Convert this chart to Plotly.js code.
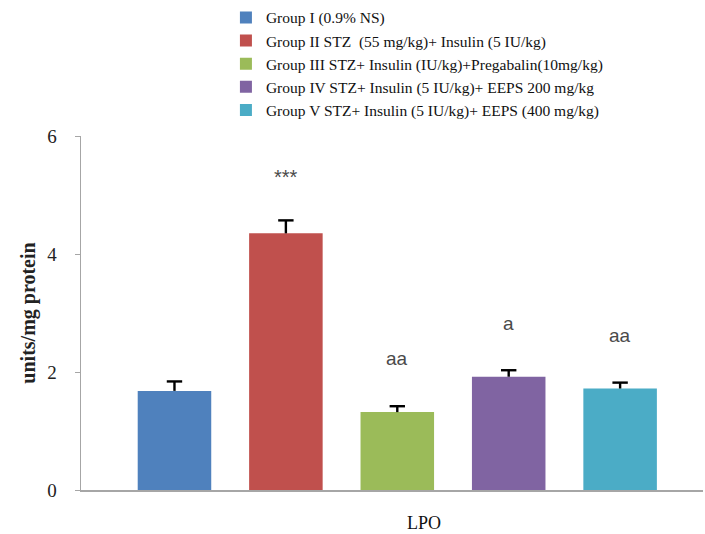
<!DOCTYPE html>
<html>
<head>
<meta charset="utf-8">
<script src="https://cdn.plot.ly/plotly-3.0.1.min.js"></script>
<style>html,body{margin:0;padding:0;background:#fff;}#chart{width:705px;height:534px;}</style>
</head>
<body>
<div id="chart"></div>
<script>
const groups = [
  "Group I (0.9% NS)",
  "Group II STZ  (55 mg/kg)+ Insulin (5 IU/kg)",
  "Group III STZ+ Insulin (IU/kg)+Pregabalin(10mg/kg)",
  "Group IV STZ+ Insulin (5 IU/kg)+ EEPS 200 mg/kg",
  "Group V STZ+ Insulin (5 IU/kg)+ EEPS (400 mg/kg)"
];
const values = [1.68, 4.35, 1.32, 1.92, 1.72];
const errors = [0.16, 0.22, 0.10, 0.11, 0.10];
const marks = ["", "***", "aa", "a", "aa"];
const markY = [0, 5.30, 2.23, 2.82, 2.62];
const colors = ["#4f81bd", "#c0504d", "#9bbb59", "#8064a2", "#4bacc6"];
const category = "LPO";
const yTitle = "units/mg protein";

const traces = groups.map((g, i) => ({
  type: "bar",
  name: g,
  x: [i],
  y: [values[i]],
  width: 0.66,
  marker: {color: colors[i], line: {width: 0}},
  error_y: {type: "data", symmetric: false, array: [errors[i]], arrayminus: [0],
            color: "#000", thickness: 2.4, width: 0},
  hoverinfo: "none"
}));

// caps of the error bars (top only)
traces.push({
  type: "scatter", mode: "markers", showlegend: false, hoverinfo: "none",
  x: values.map((v, i) => i),
  y: values.map((v, i) => v + errors[i]),
  marker: {symbol: "line-ew-open", size: 11, color: "#000", line: {color: "#000", width: 2.4}}
});

const annotations = [];
marks.forEach((m, i) => {
  if (!m) return;
  annotations.push({x: i, y: markY[i], xref: "x", yref: "y", text: m, showarrow: false,
    font: {family: "Liberation Sans, Arial", size: m === "***" ? 20 : 19, color: "#4a4a4a"},
    yanchor: "middle"});
});
annotations.push({x: 0.551, y: -0.093, xref: "paper", yref: "paper", text: category,
  showarrow: false, borderpad: 0,
  font: {family: "Liberation Serif, Times New Roman", size: 18, color: "#111"},
  yanchor: "middle"});

const layout = {
  width: 705, height: 534,
  margin: {l: 81, r: 2, t: 135, b: 44},
  paper_bgcolor: "#fff", plot_bgcolor: "#fff",
  barmode: "overlay",
  showlegend: true,
  legend: {x: 0.233, y: 1.378, xanchor: "left", yanchor: "top",
    font: {family: "Liberation Serif, Times New Roman", size: 15.5, color: "#111"},
    tracegroupgap: 0, itemwidth: 30, bgcolor: "rgba(0,0,0,0)"},
  xaxis: {range: [-0.839, 4.744], showticklabels: false, ticks: "", showgrid: false,
    zeroline: false, showline: true, linecolor: "#a6a6a6", linewidth: 1.5, fixedrange: true},
  yaxis: {range: [0, 6], dtick: 2, ticks: "outside", ticklen: 5, tickcolor: "#a6a6a6",
    showgrid: false, zeroline: false, showline: true, linecolor: "#a6a6a6", linewidth: 1.5,
    ticklabelstandoff: 14,
    tickfont: {family: "Liberation Serif, Times New Roman", size: 19, color: "#222"},
    title: {text: "<b>" + yTitle + "</b>", standoff: 6,
      font: {family: "Liberation Serif, Times New Roman", size: 20, color: "#222"}}},
  annotations: annotations
};

Plotly.newPlot("chart", traces, layout, {staticPlot: true});
</script>
</body>
</html>
